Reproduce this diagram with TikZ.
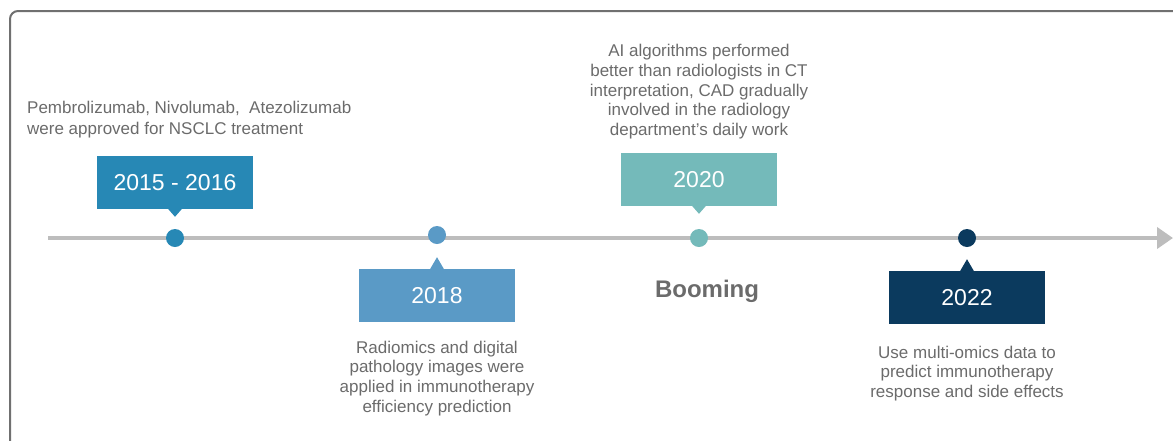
\documentclass[tikz,border=0pt]{standalone}
\usepackage{fontspec}
\setmainfont{Liberation Sans}
\usepackage{tikz}
\usetikzlibrary{positioning,arrows.meta}
\definecolor{tlframe}{HTML}{707070}
\definecolor{tlaxis}{HTML}{BDBDBD}
\definecolor{tltext}{HTML}{6B6B6B}
\definecolor{yrone}{HTML}{2788B5}
\definecolor{yrtwo}{HTML}{5A9AC6}
\definecolor{yrthree}{HTML}{74BABA}
\definecolor{yrfour}{HTML}{0B3A5E}

\begin{document}
\begin{tikzpicture}[x=1pt, y=1pt,
  dot/.style={circle, inner sep=0pt, minimum size=18pt},
  year/.style={minimum width=156pt, minimum height=53pt, inner sep=0pt,
    text=white, font=\fontsize{23}{27}\selectfont},
  note/.style={text=tltext, align=center, inner sep=0pt,
    font=\fontsize{17}{19.8}\selectfont}]
  \useasboundingbox (0,0) rectangle (1173,-440);
  % outer frame, runs past the right and bottom edges
  \draw[tlframe, line width=2pt, rounded corners=8pt] (10,-11) rectangle (1200,-470);

  % time axis
  \coordinate (start) at (48,-238);
  \coordinate (stop) at (1173,-238);
  \draw[tlaxis, line width=4.5pt, -{Triangle[length=16pt, width=21pt]}] (start) -- (stop);

  % milestones on the axis
  \node[dot, fill=yrone] (d1) at (175,-238) {};
  \node[dot, fill=yrtwo] (d2) at (437,-235) {};
  \node[dot, fill=yrthree] (d3) at (699,-238) {};
  \node[dot, fill=yrfour] (d4) at (967,-238) {};

  \node[year, fill=yrone, above=20pt of d1] (b1) {2015 - 2016};
  \node[year, fill=yrtwo, below=25pt of d2] (b2) {2018};
  \node[year, fill=yrthree, above=23pt of d3] (b3) {2020};
  \node[year, fill=yrfour, below=24pt of d4] (b4) {2022};

  % small pointers from the boxes to the axis
  \fill[yrone] ([xshift=-7pt]b1.south) -- ([xshift=7pt]b1.south) -- ([yshift=-8pt]b1.south) -- cycle;
  \fill[yrtwo] ([xshift=-7pt]b2.north) -- ([xshift=7pt]b2.north) -- ([yshift=12pt]b2.north) -- cycle;
  \fill[yrthree] ([xshift=-7pt]b3.south) -- ([xshift=7pt]b3.south) -- ([yshift=-8pt]b3.south) -- cycle;
  \fill[yrfour] ([xshift=-7pt]b4.north) -- ([xshift=7pt]b4.north) -- ([yshift=12pt]b4.north) -- cycle;

  % descriptions
  \node[note, align=left, anchor=south west, font=\fontsize{17}{21}\selectfont] (n1) at (27,-138)
    {Pembrolizumab, Nivolumab,\ \ Atezolizumab\\were approved for NSCLC treatment};
  \node[note, below=18pt of b2] (n2)
    {Radiomics and digital\\pathology images were\\applied in immunotherapy\\efficiency prediction};
  \node[note, above=13pt of b3] (n3)
    {AI algorithms performed\\better than radiologists in CT\\interpretation, CAD gradually\\involved in the radiology\\department's daily work};
  \node[note, below=21pt of b4] (n4)
    {Use multi-omics data to\\predict immunotherapy\\response and side effects};
  \node[text=tltext, font=\fontsize{24}{28}\selectfont\bfseries] (boom) at (707,-291) {Booming};
\end{tikzpicture}
\end{document}
